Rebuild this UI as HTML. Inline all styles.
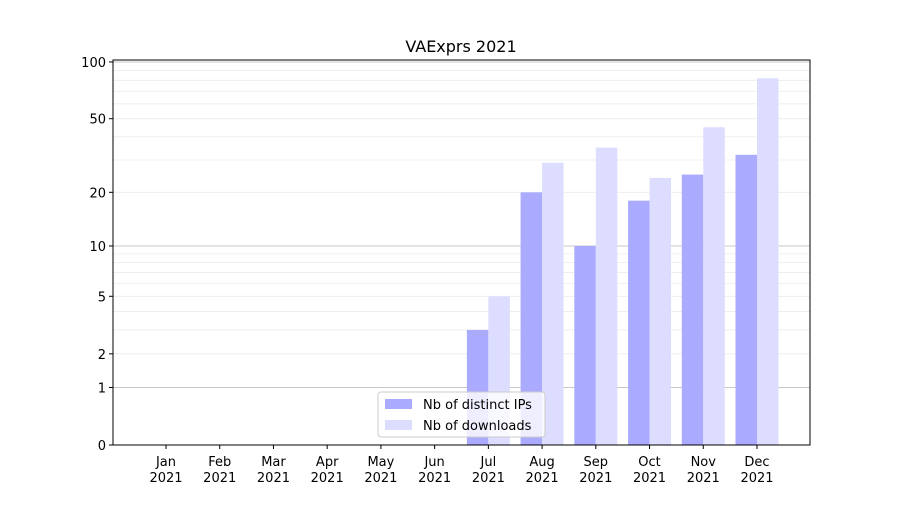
<!DOCTYPE html>
<html><head><meta charset="utf-8"><style>
body{margin:0;background:#fff}
svg text{font-family:"DejaVu Sans","Liberation Sans",sans-serif;fill:#000}
</style></head><body>
<svg id="chart" width="900" height="500" xmlns="http://www.w3.org/2000/svg">
<text x="461" y="52" font-size="16" text-anchor="middle">VAExprs 2021</text>
<g id="grid"></g><g id="bars"></g><g id="axes"></g>
</svg>
<script>
const months = ["Jan","Feb","Mar","Apr","May","Jun","Jul","Aug","Sep","Oct","Nov","Dec"];
const ips = [0,0,0,0,0,0,3,20,10,18,25,32];
const downloads = [0,0,0,0,0,0,5,29,35,24,45,82];
const yTicks = [0,1,2,5,10,20,50,100];
const NS="http://www.w3.org/2000/svg";
const L=113,R=810,T=60,B=445,K=191.1;
function y(v){return B-Math.log10(1+v)*K;}
const step=(757-166)/11;
function x(i){return 166+i*step;}
function mk(tag,attrs,parent){const e=document.createElementNS(NS,tag);for(const k in attrs)e.setAttribute(k,attrs[k]);parent.appendChild(e);return e;}
const grid=document.getElementById('grid'),bars=document.getElementById('bars'),axes=document.getElementById('axes');
for(let d=1;d<=100;d*=10){for(let m=1;m<10;m++){const v=m*d;if(v>100)break;const major=(m===1);const yy=y(v);
const g=mk('line',{x1:L,x2:R,y1:yy,y2:yy,stroke:major?'#c8c8c8':'#ececec','stroke-width':major?1:0.8},grid);

}}
const bw=step*0.4;
months.forEach((mo,i)=>{
 const a=mk('rect',{x:x(i)-bw,y:y(ips[i]),width:bw,height:B-y(ips[i]),fill:'#aaaaff'},bars);
 
 
 const b=mk('rect',{x:x(i),y:y(downloads[i]),width:bw,height:B-y(downloads[i]),fill:'#ddddff'},bars);
 
 
 mk('line',{x1:x(i),x2:x(i),y1:B,y2:B+4,stroke:'#000'},axes);
 const t=mk('text',{x:x(i),y:B+21,'font-size':13,'text-anchor':'middle'},axes);t.textContent=mo;
 
 
 const t2=mk('text',{x:x(i),y:B+37,'font-size':13,'text-anchor':'middle'},axes);t2.textContent='2021';
 
 
});
yTicks.forEach(v=>{const yy=y(v);
 mk('line',{x1:L-4,x2:L,y1:yy,y2:yy,stroke:'#000'},axes);
 const t=mk('text',{x:L-7,y:yy+5,'font-size':13,'text-anchor':'end'},axes);t.textContent=v;
 
 
});
const fr=mk('rect',{x:L,y:T,width:R-L,height:B-T,fill:'none',stroke:'#000','stroke-width':1},axes);


const lg=mk('g',{},axes);


mk('rect',{x:378,y:392,width:167,height:45,rx:3,fill:'#fff','fill-opacity':0.8,stroke:'#ccc'},lg);
mk('rect',{x:385,y:399,width:27,height:10,fill:'#aaaaff'},lg);
mk('rect',{x:385,y:420,width:27,height:10,fill:'#ddddff'},lg);
const l1=mk('text',{x:423,y:409,'font-size':13},lg);l1.textContent='Nb of distinct IPs';


const l2=mk('text',{x:423,y:430,'font-size':13},lg);l2.textContent='Nb of downloads';


</script>
</body></html>
